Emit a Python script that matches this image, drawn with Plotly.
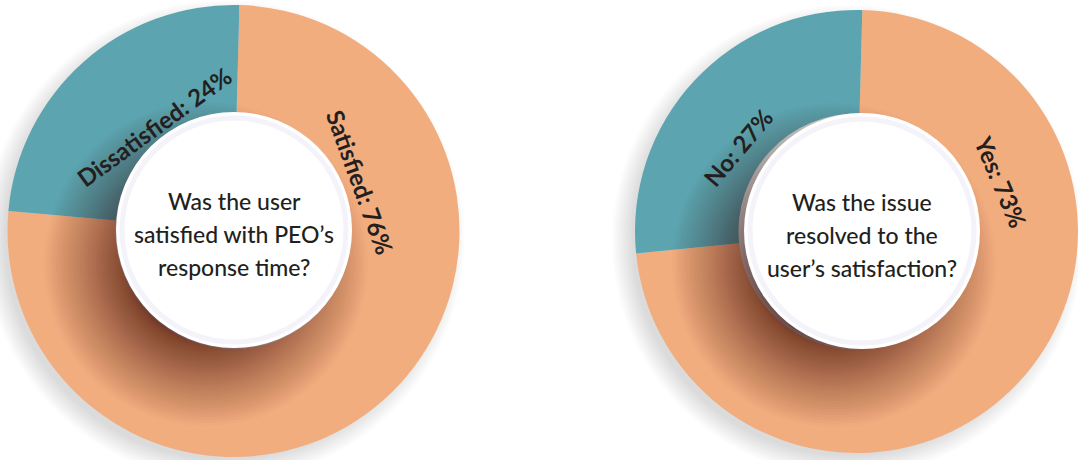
import math
import plotly.graph_objects as go

W, H = 1078, 460

# ---------------- data ----------------
q1_labels = ["Satisfied", "Dissatisfied"]
q1_values = [76, 24]
q1_question = ["Was the user", "satisfied with PEO’s", "response time?"]

q2_labels = ["Yes", "No"]
q2_values = [73, 27]
q2_question = ["Was the issue", "resolved to the", "user’s satisfaction?"]

# ---------------- style ----------------
slice_colors = ["#F2AD7F", "#5CA5B0"]
text_color = "#231F20"
FONT = "Lato, 'Open Sans', sans-serif"
HOLE_R = 118

# pie geometry in pixels: (left, right, top, bottom) of the domain box
charts = [
    dict(labels=q1_labels, values=q1_values, question=q1_question,
         box=(7, 460, 5, 457), hole_c=(234, 230),
         label_pos=[(69, 135, 70), (322.5, 131, -36)]),
    dict(labels=q2_labels, values=q2_values, question=q2_question,
         box=(635, 1078, 6, 457), hole_c=(862, 231),
         label_pos=[(70.5, 147, 67), (304, 150, -50)]),
]


def circle(cx, cy, r, **kw):
    return dict(type="circle", xref="paper", yref="paper",
                x0=(cx - r) / W, x1=(cx + r) / W,
                y0=1 - (cy + r) / H, y1=1 - (cy - r) / H, **kw)


fig = go.Figure()
shapes = []
annotations = []

for ch in charts:
    l, r, t, b = ch["box"]
    rad = min(r - l, b - t) / 2
    cx = (l + r) / 2
    cy = (t + b) / 2
    fig.add_trace(go.Pie(
        labels=ch["labels"], values=ch["values"],
        sort=False, direction="clockwise", rotation=1.5,
        hole=HOLE_R / rad,
        marker=dict(colors=slice_colors, line=dict(width=0)),
        textinfo="none", hoverinfo="label+percent",
        domain=dict(x=[l / W, r / W], y=[1 - b / H, 1 - t / H]),
        showlegend=False,
    ))

    # faint outer drop shadow toward the lower left (below the ring)
    for k in range(12):
        shapes.append(circle(cx - 9, cy + 9, rad - 6 + k * 1.8,
                             fillcolor="rgba(120,125,140,0.025)",
                             line=dict(width=0), layer="below"))

    # inner cast shadow of the centre disc (above the ring)
    hx, hy = ch["hole_c"]
    dx, dy = -28, 34
    dmag = (dx * dx + dy * dy) ** 0.5
    n = 50
    for k in range(n):
        f = (k / (n - 1)) ** 1.7
        rr = HOLE_R - dmag + 2 * dmag * f
        shapes.append(circle(hx + dx, hy + dy, rr,
                             fillcolor="rgba(35,20,10,0.021)",
                             line=dict(width=0), layer="above"))

    # centre disc with a pale lavender band
    shapes.append(circle(hx, hy, HOLE_R, fillcolor="white",
                         line=dict(width=0), layer="above"))
    shapes.append(circle(hx, hy, HOLE_R - 6, fillcolor="rgba(0,0,0,0)",
                         line=dict(width=5, color="#F3F3F9"), layer="above"))

    # question text, one annotation per line
    for i, line in enumerate(ch["question"]):
        ly = hy + 4 + (i - 1) * 33
        annotations.append(dict(
            x=hx / W, y=1 - ly / H, xref="paper", yref="paper",
            text=line, showarrow=False,
            xanchor="center", yanchor="middle", align="center",
            font=dict(family=FONT, size=23, color=text_color, weight=500)))

    # slice labels
    for lab, val, (ang, rho, rot) in zip(ch["labels"], ch["values"], ch["label_pos"]):
        ax = hx + rho * math.sin(math.radians(ang))
        ay = hy - rho * math.cos(math.radians(ang))
        annotations.append(dict(
            x=ax / W, y=1 - ay / H, xref="paper", yref="paper",
            text=f"{lab}: {val}%", showarrow=False, textangle=rot,
            xanchor="center", yanchor="middle",
            font=dict(family=FONT, size=24, color=text_color, weight=700)))

fig.update_layout(
    width=W, height=H,
    margin=dict(l=0, r=0, t=0, b=0),
    paper_bgcolor="white", plot_bgcolor="white",
    shapes=shapes, annotations=annotations,
    showlegend=False,
)

fig.write_html("out.html")
